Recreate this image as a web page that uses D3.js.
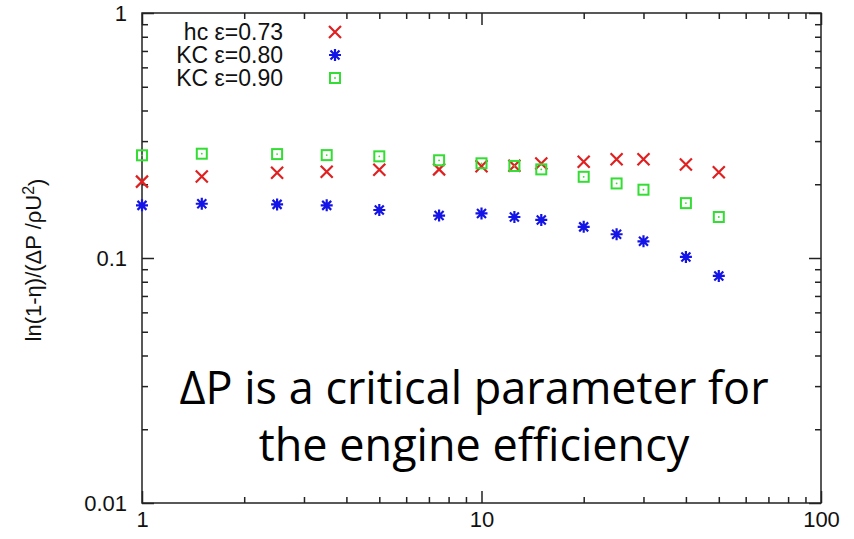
<!DOCTYPE html>
<html>
<head>
<meta charset="utf-8">
<script src="https://cdn.jsdelivr.net/npm/d3@7"></script>
<style>
  html, body { margin: 0; padding: 0; background: #fff; }
  svg { display: block; }
  .axis path, .axis line { stroke: #222; stroke-width: 1.5; }
  .axis text { font-family: "Liberation Sans", Arial, sans-serif; font-size: 22px; fill: #111; }
</style>
</head>
<body>
<svg id="chart" width="854" height="539"></svg>
<script>
// x positions (log scale)
const xValues = [1, 1.5, 2.5, 3.5, 5, 7.5, 10, 12.5, 15, 20, 25, 30, 40, 50];

// series values
const hc073 = [0.205, 0.215, 0.223, 0.225, 0.229, 0.230, 0.237, 0.238, 0.243, 0.247, 0.253, 0.253, 0.241, 0.224];
const kc080 = [0.164, 0.1665, 0.1655, 0.164, 0.157, 0.149, 0.152, 0.147, 0.143, 0.134, 0.125, 0.117, 0.101, 0.0845];
const kc090 = [0.2625, 0.2665, 0.2655, 0.263, 0.260, 0.2505, 0.2435, 0.2375, 0.230, 0.2145, 0.2015, 0.190, 0.1675, 0.147];

const seriesNames = ["hc \u03b5=0.73", "KC \u03b5=0.80", "KC \u03b5=0.90"];
const seriesColors = ["#e02020", "#1414e6", "#33dd33"];
const seriesShapes = ["cross", "star", "square"];

// axis ticks
const xMajor = [1, 10, 100];
const yMajor = [0.01, 0.1, 1];
const xTickLabels = ["1", "10", "100"];
const yTickLabels = ["0.01", "0.1", "1"];

const annotationLines = ["\u0394P is a critical parameter for", "the engine efficiency"];

const svg = d3.select("#chart");
const plotLeft = 142, plotRight = 821, plotTop = 13, plotBottom = 503;

const x = d3.scaleLog().domain([1, 100]).range([plotLeft, plotRight]);
const y = d3.scaleLog().domain([0.01, 1]).range([plotBottom, plotTop]);

function minorTicks(lo, hi) {
  const out = [];
  for (let d = lo; d < hi * 0.999; d *= 10) for (let k = 2; k <= 9; k++) out.push(d * k);
  return out;
}
const xMinor = minorTicks(1, 100);
const yMinor = minorTicks(0.01, 1);

const majorLen = 12, minorLen = 6;

// border
svg.append("rect")
  .attr("x", plotLeft).attr("y", plotTop)
  .attr("width", plotRight - plotLeft).attr("height", plotBottom - plotTop)
  .attr("fill", "none").attr("stroke", "#222").attr("stroke-width", 1.5);

function tickGroup(axisFn, tx, ty) {
  svg.append("g").attr("class", "axis").attr("transform", `translate(${tx},${ty})`)
    .call(axisFn)
    .call(g => g.select(".domain").remove());
}

// bottom axis with labels, top mirror ticks
tickGroup(d3.axisBottom(x).tickValues(xMajor).tickFormat((d, i) => xTickLabels[i])
  .tickSizeInner(-majorLen).tickSizeOuter(0).tickPadding(8), 0, plotBottom);
tickGroup(d3.axisBottom(x).tickValues(xMinor).tickFormat("").tickSizeInner(-minorLen).tickSizeOuter(0), 0, plotBottom);
tickGroup(d3.axisTop(x).tickValues(xMajor).tickFormat("").tickSizeInner(-majorLen).tickSizeOuter(0), 0, plotTop);
tickGroup(d3.axisTop(x).tickValues(xMinor).tickFormat("").tickSizeInner(-minorLen).tickSizeOuter(0), 0, plotTop);

// left axis with labels, right mirror ticks
tickGroup(d3.axisLeft(y).tickValues(yMajor).tickFormat((d, i) => yTickLabels[i])
  .tickSizeInner(-majorLen).tickSizeOuter(0).tickPadding(15), plotLeft, 0);
tickGroup(d3.axisLeft(y).tickValues(yMinor).tickFormat("").tickSizeInner(-minorLen).tickSizeOuter(0), plotLeft, 0);
tickGroup(d3.axisRight(y).tickValues(yMajor).tickFormat("").tickSizeInner(-majorLen).tickSizeOuter(0), plotRight, 0);
tickGroup(d3.axisRight(y).tickValues(yMinor).tickFormat("").tickSizeInner(-minorLen).tickSizeOuter(0), plotRight, 0);

// y-axis title
const yTitle = svg.append("text")
  .attr("transform", `translate(41,${(plotTop + plotBottom) / 2 + 2}) rotate(-90)`)
  .attr("text-anchor", "middle")
  .style("font-family", "Liberation Sans, Arial, sans-serif")
  .style("font-size", "22px").style("fill", "#111");
yTitle.append("tspan").text("ln(1-\u03b7)/(\u0394P /\u03c1U");
yTitle.append("tspan").attr("dy", "-0.45em").style("font-size", "16px").text("2");
yTitle.append("tspan").attr("dy", "0.45em").text(")");

// point symbols
const half = 6;
function drawMarker(g, shape, color) {
  if (shape === "cross") {
    g.append("path").attr("d", `M${-half},${-half}L${half},${half}M${-half},${half}L${half},${-half}`)
      .attr("stroke", color).attr("stroke-width", 2.2).attr("fill", "none");
  } else if (shape === "star") {
    const d = half, e = half * 0.75;
    g.append("path").attr("d", `M${-d},0L${d},0M0,${-d}L0,${d}M${-e},${-e}L${e},${e}M${-e},${e}L${e},${-e}`)
      .attr("stroke", color).attr("stroke-width", 2.2).attr("fill", "none");
  } else {
    g.append("rect").attr("x", -half + 1).attr("y", -half + 1)
      .attr("width", 2 * half - 2).attr("height", 2 * half - 2)
      .attr("stroke", color).attr("stroke-width", 2).attr("fill", "none");
    g.append("circle").attr("r", 0.9).attr("fill", color);
  }
}

const allSeries = [hc073, kc080, kc090];
allSeries.forEach((vals, si) => {
  const g = svg.append("g");
  vals.forEach((v, i) => {
    const m = g.append("g").attr("transform", `translate(${x(xValues[i])},${y(v)})`);
    drawMarker(m, seriesShapes[si], seriesColors[si]);
  });
});

// legend
seriesNames.forEach((name, i) => {
  const cy = 32 + i * 23;
  svg.append("text").attr("x", 283).attr("y", cy).attr("dy", "0.35em")
    .attr("text-anchor", "end")
    .style("font-family", "Liberation Sans, Arial, sans-serif")
    .style("font-size", "23px").style("fill", "#111").text(name);
  const m = svg.append("g").attr("transform", `translate(335,${cy})`);
  drawMarker(m, seriesShapes[i], seriesColors[i]);
});

// annotation
annotationLines.forEach((line, i) => {
  svg.append("text").attr("x", 474).attr("y", 388 + i * 57).attr("dy", "0.35em")
    .attr("text-anchor", "middle")
    .style("font-family", "Open Sans, Noto Sans, sans-serif")
    .style("font-size", "45px").style("fill", "#000").text(line);
});
</script>
</body>
</html>
